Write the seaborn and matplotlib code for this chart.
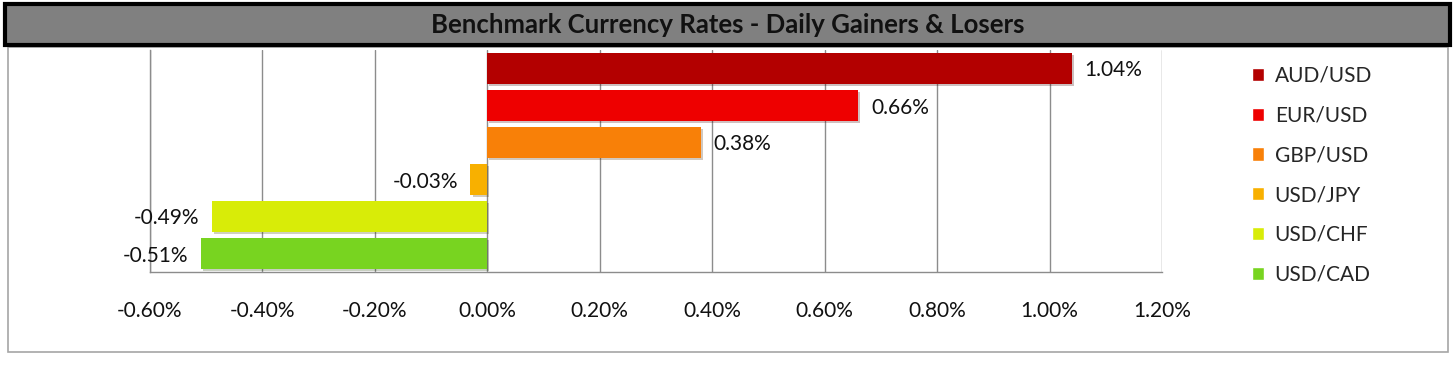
import matplotlib
matplotlib.use("Agg")
import matplotlib.pyplot as plt
import matplotlib.patheffects as pe
from matplotlib.patches import Rectangle
from matplotlib.ticker import FuncFormatter
import pandas as pd
import seaborn as sns

# daily change of each benchmark pair, in percent
pairs = ["AUD/USD", "EUR/USD", "GBP/USD", "USD/JPY", "USD/CHF", "USD/CAD"]
changes = [1.04, 0.66, 0.38, -0.03, -0.49, -0.51]
colors = ["#B30000", "#EE0000", "#F88008", "#F8B000", "#D8EC08", "#78D420"]
x_ticks = [-0.6, -0.4, -0.2, 0.0, 0.2, 0.4, 0.6, 0.8, 1.0, 1.2]
title = "Benchmark Currency Rates - Daily Gainers & Losers"

df = pd.DataFrame({"pair": pairs, "change": changes})

sns.set_theme(style="white")
plt.rcParams["font.family"] = ["Lato", "DejaVu Sans"]

fig = plt.figure(figsize=(14.55, 3.69), dpi=100)
W, H = 1455, 369

# outer chart frame and the grey title bar
fig.patches.append(Rectangle((8 / W, 1 - 352 / H), 1440 / W, 305 / H,
                             transform=fig.transFigure, facecolor="none",
                             edgecolor="#A6A6A6", linewidth=1.2, zorder=-1))
fig.patches.append(Rectangle((5 / W, 1 - 45 / H), 1445 / W, 41 / H,
                             transform=fig.transFigure, facecolor="#808080",
                             edgecolor="black", linewidth=3, zorder=1))
fig.text(0.5, 1 - 25 / H, title, ha="center", va="center",
         fontsize=18.5, fontweight="bold", color="#111111")

ax = fig.add_axes([150 / W, 1 - 272 / H, 1012 / W, 222 / H])
ax.set_facecolor("none")
sns.barplot(data=df, y="pair", x="change", hue="pair", palette=colors,
            order=pairs, hue_order=pairs, width=0.82, dodge=False,
            saturation=1, linewidth=0, legend=False, ax=ax, zorder=3)

for bar in ax.patches:
    bar.set_path_effects([pe.SimplePatchShadow(offset=(1.5, -1.5), alpha=0.25),
                          pe.Normal()])

for cont, v in zip(ax.containers, changes):
    for t in ax.bar_label(cont, labels=[f"{v:.2f}%"], padding=9, fontsize=15,
                          color="#111111"):
        t.set_va("center_baseline")

ax.set_xlim(-0.6, 1.2)
ax.set_xticks(x_ticks)
ax.xaxis.set_major_formatter(FuncFormatter(lambda v, p: f"{v:.2f}%"))
ax.tick_params(axis="x", length=0, pad=21, labelsize=15, labelcolor="#111111")
ax.set_yticks([])
ax.set_xlabel("")
ax.set_ylabel("")
ax.grid(axis="x", color="#8C8C8C", linewidth=1, zorder=0)
ax.set_axisbelow(True)
for side in ["top", "right"]:
    ax.spines[side].set_visible(False)
ax.spines["left"].set_color("#8C8C8C")
ax.spines["bottom"].set_color("#8C8C8C")
ax.spines["left"].set_linewidth(1)
ax.spines["bottom"].set_linewidth(1)

handles = [Rectangle((0, 0), 1, 1, facecolor=c) for c in colors]
fig.legend(handles, pairs, loc="upper left",
           bbox_to_anchor=(1233 / W, 1 - 47 / H), frameon=False,
           fontsize=15, handlelength=0.6, handleheight=0.6,
           handletextpad=0.5, labelspacing=0.95)

fig.savefig("out.png", dpi=100)
